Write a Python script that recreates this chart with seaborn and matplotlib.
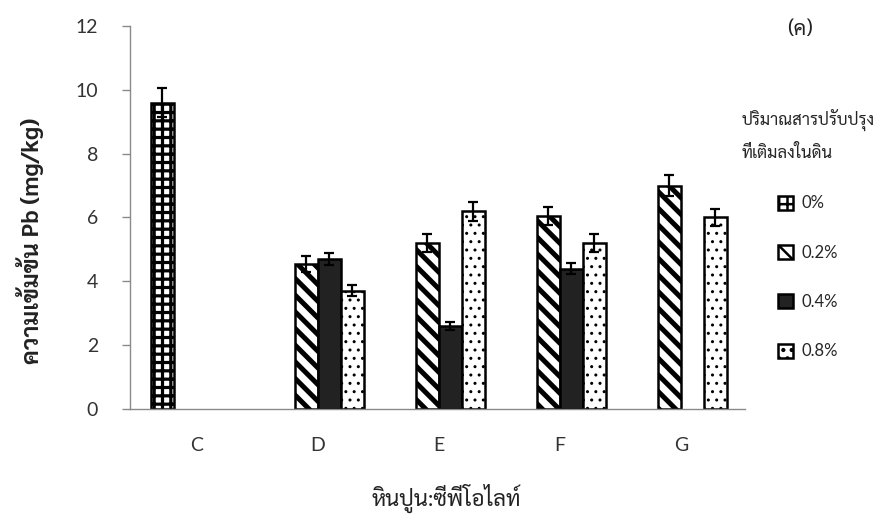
import numpy as np
import pandas as pd
import matplotlib
matplotlib.use("Agg")
import matplotlib.pyplot as plt
import matplotlib.patches as mpatches
from matplotlib import font_manager
from matplotlib.ft2font import FT2Font
import seaborn as sns

# ---------------- data ----------------
categories = ["C", "D", "E", "F", "G"]
levels = ["0%", "0.2%", "0.4%", "0.8%"]
pb_0 = [9.6, np.nan, np.nan, np.nan, np.nan]
pb_02 = [np.nan, 4.55, 5.2, 6.05, 7.0]
pb_04 = [np.nan, 4.7, 2.6, 4.4, np.nan]
pb_08 = [np.nan, 3.7, 6.2, 5.2, 6.0]
err_0 = [0.45, np.nan, np.nan, np.nan, np.nan]
err_02 = [np.nan, 0.25, 0.28, 0.28, 0.34]
err_04 = [np.nan, 0.2, 0.12, 0.18, np.nan]
err_08 = [np.nan, 0.17, 0.3, 0.27, 0.28]

# ---------------- fonts ----------------
def find_thai_font():
    prefs = ["Sarabun", "Noto Sans Thai Looped", "IBM Plex Sans Thai Looped",
             "Noto Sans Thai", "Loma", "Garuda"]
    found = {}
    for f in font_manager.fontManager.ttflist:
        try:
            cm = FT2Font(f.fname).get_charmap()
        except Exception:
            continue
        if 0x0E01 in cm and 0x0E34 in cm:
            found.setdefault(f.name, f.fname)
    for p in prefs:
        if p in found:
            return p
    if found:
        return sorted(found)[0]
    return None

thai = find_thai_font()
latin = "Lato"
fam = [latin] + ([thai] if thai else []) + ["DejaVu Sans"]
thai_fam = ([thai] if thai else []) + [latin, "DejaVu Sans"]

sns.set_theme(style="white")
plt.rcParams["font.family"] = fam
plt.rcParams["hatch.linewidth"] = 2.0

# ---------------- long table ----------------
rows = []
for lvl, vals in zip(levels, [pb_0, pb_02, pb_04, pb_08]):
    for cat, v in zip(categories, vals):
        rows.append({"cat": cat, "level": lvl, "pb": v})
df = pd.DataFrame(rows)

fig = plt.figure(figsize=(8.83, 5.2), dpi=100)
ax = fig.add_axes([130 / 883, 1 - 409 / 520, (745 - 130) / 883, (409 - 26) / 520])

palette = {"0%": "white", "0.2%": "white", "0.4%": "#222222", "0.8%": "white"}
sns.barplot(data=df.dropna(), x="cat", y="pb", hue="level", order=categories,
            hue_order=levels, palette=palette, width=0.76, errorbar=None,
            edgecolor="black", linewidth=1.8, legend=False, ax=ax)

hatches = {"0%": "--||", "0.2%": "\\\\", "0.4%": None, "0.8%": ".."}
hlw = {"0%": 2.3, "0.2%": 3.6, "0.4%": 1.0, "0.8%": 1.0}
errs = {"0%": err_0, "0.2%": err_02, "0.4%": err_04, "0.8%": err_08}
vals_map = {"0%": pb_0, "0.2%": pb_02, "0.4%": pb_04, "0.8%": pb_08}


def set_hatch_lw(p, lw):
    p._hatch_linewidth = lw
    if hasattr(p, "set_hatch_linewidth"):
        p.set_hatch_linewidth(lw)
    orig = p.draw

    def draw(renderer, _orig=orig, _lw=lw, _p=p):
        _p._hatch_linewidth = _lw
        with plt.rc_context({"hatch.linewidth": _lw}):
            _orig(renderer)
    p.draw = draw


for lvl, cont in zip(levels, ax.containers):
    e_list = [e for e, v in zip(errs[lvl], vals_map[lvl]) if not np.isnan(v)]
    xs, ys = [], []
    for p in cont.patches:
        if hatches[lvl]:
            p.set_hatch(hatches[lvl])
            set_hatch_lw(p, hlw[lvl])
        xs.append(p.get_x() + p.get_width() / 2)
        ys.append(p.get_height())
    ax.errorbar(xs, ys, yerr=e_list, fmt="none", ecolor="black",
                elinewidth=1.6, capsize=3.8, capthick=1.6, zorder=5)

ax.set_ylim(0, 12)
ax.set_xlim(-0.55, 4.53)
ax.set_yticks([0, 2, 4, 6, 8, 10, 12])
sns.despine(ax=ax)
for s in ["left", "bottom"]:
    ax.spines[s].set_color("#8a8a8a")
    ax.spines[s].set_linewidth(1.0)
ax.tick_params(axis="y", direction="out", length=6, width=1.0, color="#8a8a8a",
               pad=17, labelsize=14, labelcolor="#333333", left=True)
ax.tick_params(axis="x", length=0, pad=20, labelsize=14, labelcolor="#333333")

ax.set_ylabel("ความเข้มข้น Pb (mg/kg)", fontsize=17, fontweight="bold",
              color="#222222", family=thai_fam)
ax.yaxis.set_label_coords(-0.14, 0.44)
ax.set_xlabel("หินปูน:ซีพีโอไลท์", fontsize=16, color="#222222", family=thai_fam)
ax.xaxis.set_label_coords(0.514, -0.195)

fig.text(800 / 883, 1 - 30 / 520, "(ค)", fontsize=15, ha="center", va="center",
         color="#222222", family=thai_fam)

handles = []
for lvl in levels:
    h = mpatches.Patch(facecolor=palette[lvl], edgecolor="black", linewidth=1.8,
                       hatch=hatches[lvl], label=lvl)
    handles.append(h)
leg = fig.legend(handles=handles, loc="upper center",
                 bbox_to_anchor=(808 / 883, 1 - 95 / 520),
                 title="ปริมาณสารปรับปรุง\nที่เติมลงในดิน", frameon=False,
                 fontsize=12, title_fontproperties={"size": 12, "family": thai_fam},
                 handlelength=0.9, handleheight=0.9, handletextpad=0.5,
                 labelspacing=2.0, alignment="center")
leg.get_title().set_linespacing(2.0)
for h in leg.legend_handles:
    if h.get_hatch():
        set_hatch_lw(h, 1.8)

fig.savefig("out.png", dpi=100)
